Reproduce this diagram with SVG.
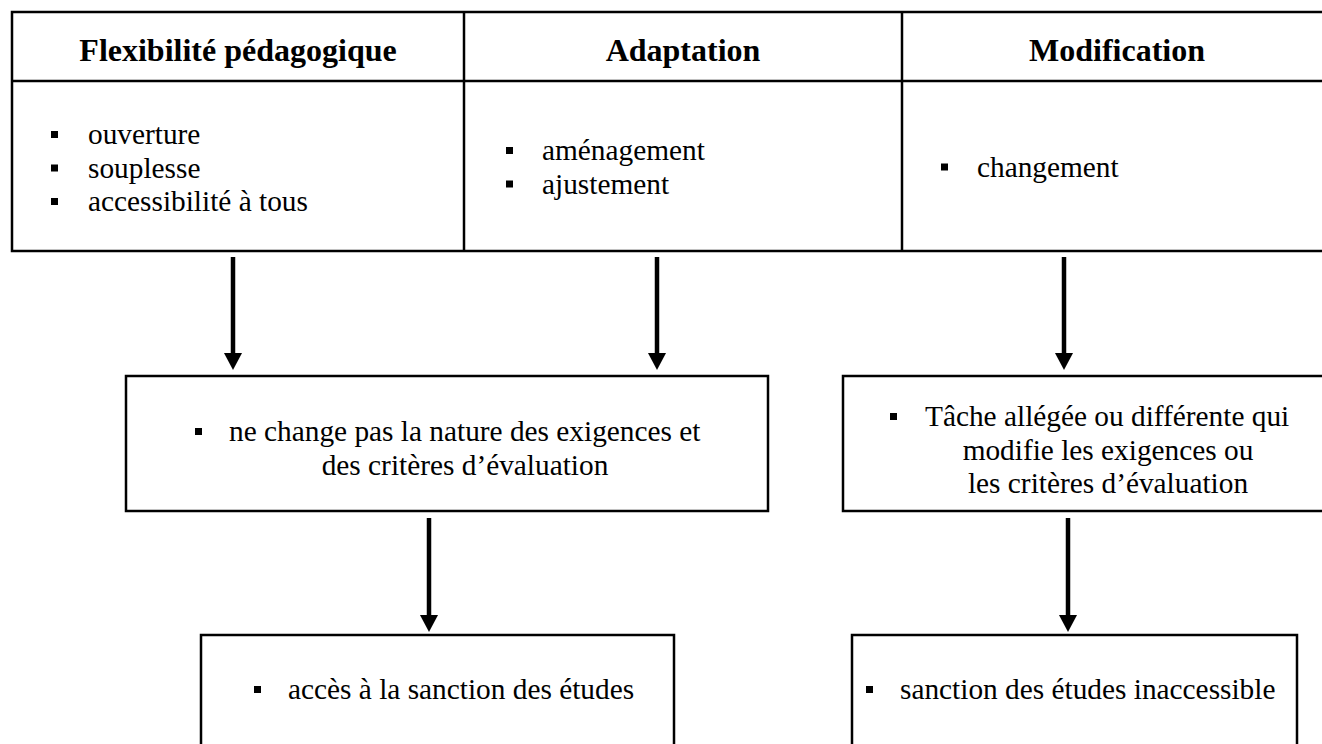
<svg xmlns="http://www.w3.org/2000/svg" width="1322" height="744" viewBox="0 0 1322 744">
<style>
.box{fill:#fff;stroke:#000;stroke-width:2.5}
.ln{stroke:#000;stroke-width:2.5;fill:none}
.t{font-family:"Liberation Serif","Times New Roman",serif;font-size:29.33px;fill:#000}
.h{font-family:"Liberation Serif","Times New Roman",serif;font-size:32px;font-weight:bold;fill:#000;text-anchor:middle}
.c{text-anchor:middle}
.b{fill:#000}
.arr{stroke:#000;stroke-width:4.5;fill:none;marker-end:url(#ah)}
</style>
<defs>
<marker id="ah" markerUnits="userSpaceOnUse" viewBox="0 0 17 18" refX="0" refY="9" markerWidth="17" markerHeight="18" orient="auto">
<path d="M0,0 L17,9 L0,18 z" fill="#000"/>
</marker>
</defs>
<rect width="1322" height="744" fill="#fff"/>
<g id="table">
<rect class="box" x="12" y="12" width="1320" height="239"/>
<line class="ln" x1="12" y1="81" x2="1332" y2="81"/>
<line class="ln" x1="464" y1="12" x2="464" y2="251"/>
<line class="ln" x1="902" y1="12" x2="902" y2="251"/>
</g>
<g id="col-flexibilite">
<text class="h" x="238" y="61">Flexibilité pédagogique</text>
<rect class="b" x="51" y="131" width="7" height="7"/>
<text class="t" x="88" y="144">ouverture</text>
<rect class="b" x="51" y="164.5" width="7" height="7"/>
<text class="t" x="88" y="177.5">souplesse</text>
<rect class="b" x="51" y="198" width="7" height="7"/>
<text class="t" x="88" y="211">accessibilité à tous</text>
</g>
<g id="col-adaptation">
<text class="h" x="683" y="61">Adaptation</text>
<rect class="b" x="506" y="147" width="7" height="7"/>
<text class="t" x="542" y="160">aménagement</text>
<rect class="b" x="506" y="180.5" width="7" height="7"/>
<text class="t" x="542" y="193.5">ajustement</text>
</g>
<g id="col-modification">
<text class="h" x="1117" y="61">Modification</text>
<rect class="b" x="941" y="163.5" width="7" height="7"/>
<text class="t" x="977" y="176.5">changement</text>
</g>
<g id="connectors">
<line class="arr" x1="233" y1="257" x2="233" y2="353"/>
<line class="arr" x1="657" y1="257" x2="657" y2="353"/>
<line class="arr" x1="1064" y1="257" x2="1064" y2="353"/>
<line class="arr" x1="429" y1="518" x2="429" y2="615"/>
<line class="arr" x1="1068" y1="518" x2="1068" y2="615"/>
</g>
<g id="box-nechange">
<rect class="box" x="126" y="376" width="642" height="135"/>
<rect class="b" x="195" y="428" width="7" height="7"/>
<text class="t" x="229" y="441">ne change pas la nature des exigences et</text>
<text class="t c" x="465" y="475">des critères d’évaluation</text>
</g>
<g id="box-tache">
<rect class="box" x="843" y="376" width="494" height="135"/>
<rect class="b" x="890" y="413" width="7" height="7"/>
<text class="t" x="925" y="426">Tâche allégée ou différente qui</text>
<text class="t c" x="1108" y="460">modifie les exigences ou</text>
<text class="t c" x="1108" y="493">les critères d’évaluation</text>
</g>
<g id="box-acces">
<rect class="box" x="201" y="635" width="473" height="120"/>
<rect class="b" x="254" y="686" width="7" height="7"/>
<text class="t" x="288" y="699">accès à la sanction des études</text>
</g>
<g id="box-inaccessible">
<rect class="box" x="852" y="635" width="445" height="120"/>
<rect class="b" x="866" y="686" width="7" height="7"/>
<text class="t" x="900" y="699">sanction des études inaccessible</text>
</g>
</svg>
